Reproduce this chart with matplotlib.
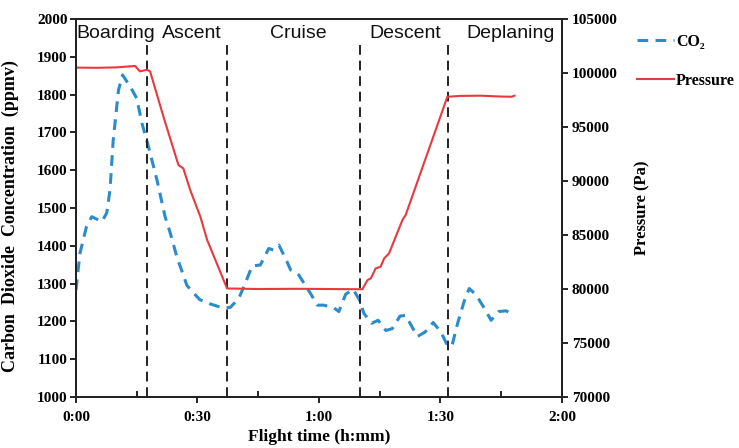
import numpy as np
import matplotlib.pyplot as plt
from matplotlib.ticker import MultipleLocator, FuncFormatter

# CO2 (ppmv) vs flight time (min)
co2_t = [0, 1, 2.6, 3.9, 6.4, 7.6, 8.4, 9.2, 10.5, 11.5, 13.4, 15.0, 16.3, 17.9,
         20.0, 22.0, 23.3, 24.9, 27.4, 30.5, 33.2, 36.5, 38.1, 40.2, 41.8, 43.5,
         45.5, 47.6, 48.7, 50.1, 52.1, 53.0, 55.0, 57.9, 59.6, 61.2, 63.7, 64.9,
         66.6, 68.4, 69.9, 71.1, 73.0, 74.6, 76.5, 78.1, 80.0, 81.4, 83.0, 84.3,
         86.2, 88.2, 90.1, 91.5, 92.8, 94.2, 95.9, 97.1, 98.8, 100.8, 102.5,
         104.3, 106.2, 108.2]
co2 = [1283, 1381, 1451, 1477, 1464, 1487, 1548, 1680, 1812, 1852, 1821, 1790,
       1724, 1662, 1574, 1477, 1433, 1371, 1295, 1258, 1246, 1235, 1237, 1261,
       1301, 1347, 1349, 1393, 1389, 1402, 1358, 1336, 1323, 1274, 1243, 1243,
       1236, 1226, 1272, 1285, 1259, 1221, 1195, 1203, 1176, 1181, 1214, 1216,
       1185, 1160, 1172, 1197, 1172, 1141, 1134, 1194, 1255, 1287, 1270, 1235,
       1203, 1226, 1228, 1216]

# cabin pressure (Pa)
p_t = [0, 5, 10, 14.6, 15.8, 17.5, 18.3, 21.6, 25.3, 26.5, 28.2, 30.7, 32.4,
       37.3, 45, 55, 65, 70.7, 72.0, 72.8, 74.0, 75.2, 76.1, 77.3, 80.6, 81.4,
       91.7, 95, 100, 105, 107.5, 108.3]
pres = [100500, 100480, 100520, 100650, 100150, 100300, 100150, 95950, 91480,
        91170, 89170, 86700, 84530, 80050, 80000, 80020, 79990, 79980, 80830,
        80990, 81910, 82060, 82840, 83300, 86390, 86850, 97800, 97880, 97900,
        97820, 97800, 97900]

phase_bounds = [17.6, 37.3, 70.2, 91.8]
phase_names = ['Boarding', 'Ascent', 'Cruise', 'Descent', 'Deplaning']
phase_x = [9.9, 28.5, 55.0, 81.2, 107.2]

serif = ['Liberation Serif', 'DejaVu Serif']

fig = plt.figure(figsize=(7.39, 4.48), dpi=100)
ax = fig.add_axes([0.1028, 0.1138, 0.6577, 0.8438])
ax2 = ax.twinx()

l1, = ax.plot(co2_t, co2, color='#2b8ccc', lw=2.2, ls=(0, (3.5, 2.4)), label='CO₂')
l2, = ax2.plot(p_t, pres, color='#e8393e', lw=1.5, label='Pressure')

for b in phase_bounds:
    ax.plot([b, b], [1000, 1940], color='#222222', lw=1.4, ls=(0, (5, 3)))

for name, x in zip(phase_names, phase_x):
    ax.text(x, 1950, name, ha='center', va='baseline', fontsize=14,
            family='Liberation Sans', color='#111111')

ax.set_xlim(0, 120)
ax.set_ylim(1000, 2000)
ax2.set_ylim(70000, 105000)
ax.xaxis.set_major_locator(MultipleLocator(30))
ax.xaxis.set_minor_locator(MultipleLocator(15))
ax.xaxis.set_major_formatter(FuncFormatter(lambda v, p: '%d:%02d' % (v // 60, v % 60)))
ax.yaxis.set_major_locator(MultipleLocator(100))
ax2.yaxis.set_major_locator(MultipleLocator(5000))

for a in (ax, ax2):
    for s in a.spines.values():
        s.set_linewidth(1.4)
        s.set_color('#222222')
    a.tick_params(which='major', length=4, width=1.2, direction='out', labelsize=11)
    for lab in a.get_xticklabels() + a.get_yticklabels():
        lab.set_family(serif)
        lab.set_fontweight('bold')
ax.tick_params(axis='x', which='minor', length=4, width=1.2, direction='in')
ax.tick_params(axis='x', pad=6)
ax.tick_params(axis='y', pad=2)
ax2.tick_params(axis='y', pad=3)

ax.set_xlabel('Flight time (h:mm)', family=serif, fontweight='bold', fontsize=12.5, labelpad=4)
ax.set_ylabel('Carbon  Dioxide  Concentration  (ppmv)', family=serif, fontweight='bold',
              fontsize=13)
ax.yaxis.set_label_coords(-0.118, 0.478)
ax2.set_ylabel('Pressure (Pa)', family=serif, fontweight='bold', fontsize=12, labelpad=12)

fig.legend(handles=[l1, l2], loc='upper left', bbox_to_anchor=(0.862, 0.925),
           frameon=False, handlelength=2.3, labelspacing=1.45, handletextpad=0.15,
           borderpad=0, borderaxespad=0,
           prop={'family': serif, 'weight': 'bold', 'size': 11.5})

fig.savefig('out.png', dpi=100)
